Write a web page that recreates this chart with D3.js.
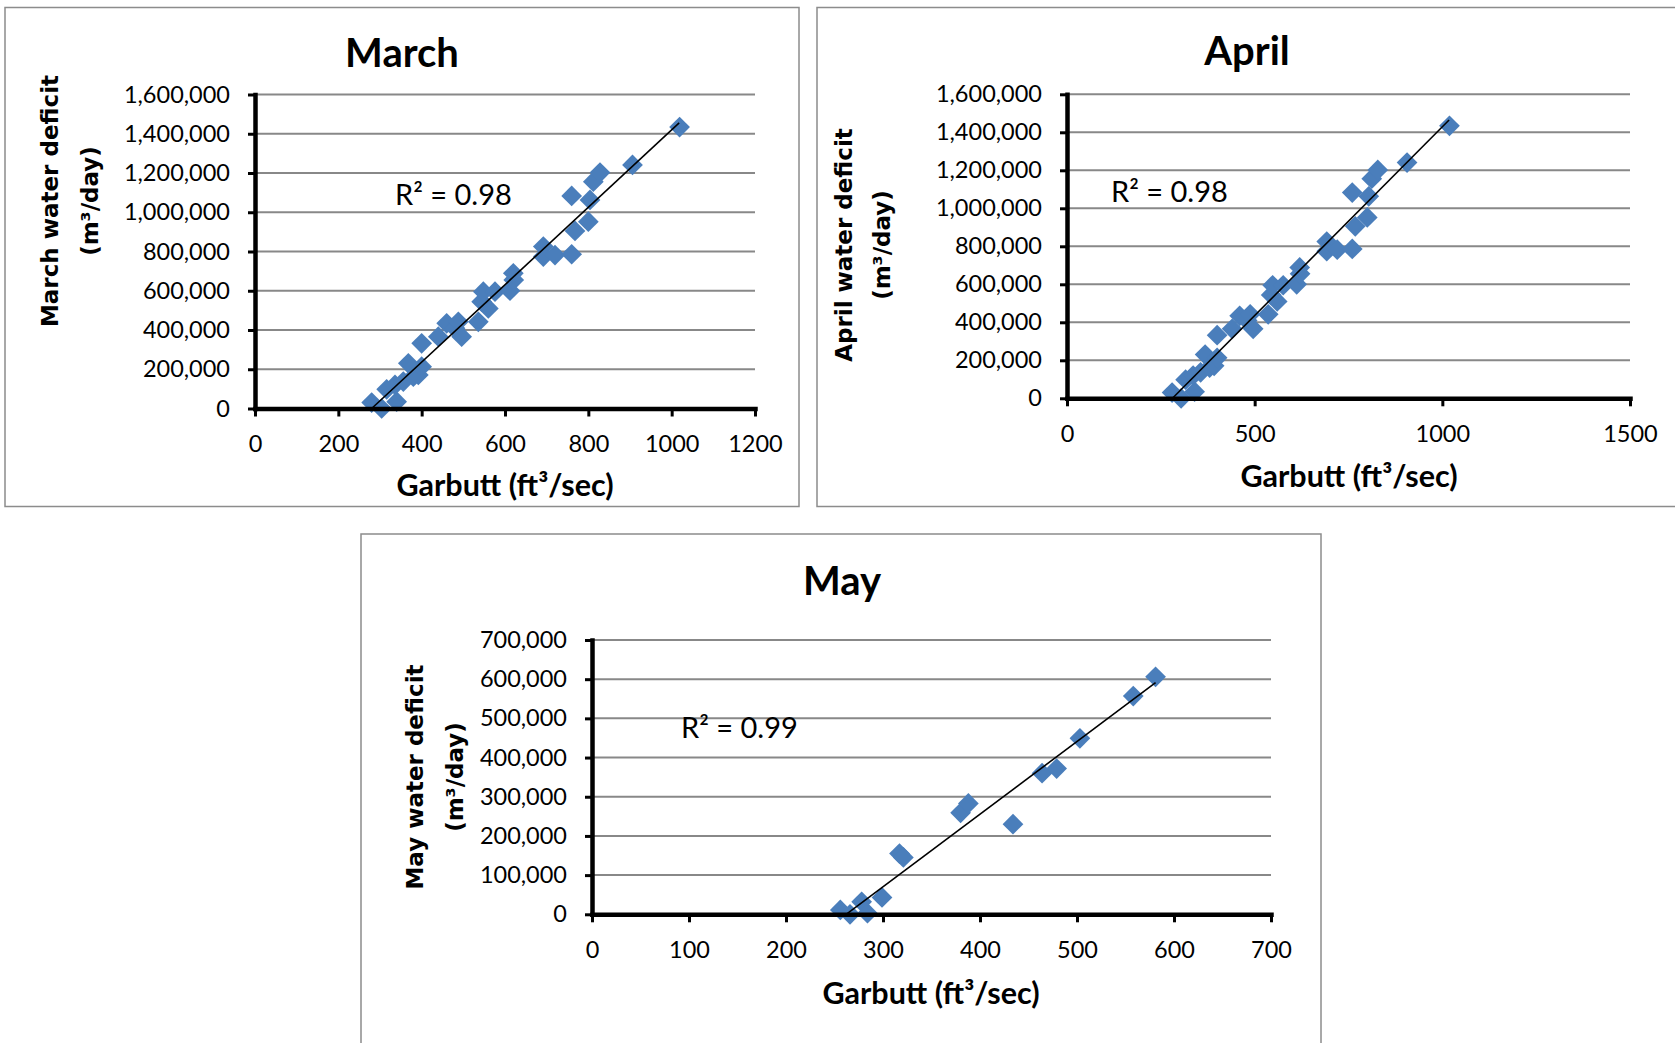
<!DOCTYPE html>
<html>
<head>
<meta charset="utf-8">
<script src="https://cdn.jsdelivr.net/npm/d3@7"></script>
<style>
  body { margin: 0; background: #fff; }
  svg { display: block; }
  text { font-family: Lato, "Open Sans", sans-serif; fill: #000; }
</style>
</head>
<body>
<svg width="1675" height="1043"></svg>
<script>
// ---- data ----
// March: Garbutt flow (ft3/sec) vs water deficit (m3/day)
var marchFlow = [280, 304, 316, 340, 336, 356, 368, 380, 392, 400, 400, 440, 460, 480, 488, 496,
  536, 544, 548, 560, 576, 612, 621, 620, 692, 692, 720, 760, 768, 800, 760, 804, 812, 828, 906, 1019];
var marchDeficit = [30000, 0, 98000, 35000, 120000, 137000, 230000, 162000, 171000, 213000, 332000,
  366000, 434000, 409000, 442000, 366000, 442000, 544000, 595000, 510000, 595000, 600000, 655000,
  689000, 825000, 774000, 782000, 786000, 905000, 952000, 1083000, 1063000, 1156000, 1202000,
  1241000, 1434000];
var marchTrendX = [280, 1018];
var marchTrendY = [0, 1455000];
var marchXTicks = [0, 200, 400, 600, 800, 1000, 1200];
var marchYTicks = [0, 200000, 400000, 600000, 800000, 1000000, 1200000, 1400000, 1600000];

// April
var aprilFlow = [280, 304, 316, 340, 336, 356, 368, 380, 392, 400, 400, 440, 460, 480, 488, 496,
  536, 544, 548, 560, 576, 612, 621, 620, 692, 692, 720, 760, 768, 800, 760, 804, 812, 828, 906, 1019];
var aprilDeficit = [30000, 0, 98000, 35000, 120000, 137000, 230000, 162000, 171000, 213000, 332000,
  366000, 434000, 409000, 442000, 366000, 442000, 544000, 595000, 510000, 595000, 600000, 655000,
  689000, 825000, 774000, 782000, 786000, 905000, 952000, 1083000, 1063000, 1156000, 1202000,
  1241000, 1434000];
var aprilTrendX = [281, 1018];
var aprilTrendY = [0, 1465000];
var aprilXTicks = [0, 500, 1000, 1500];
var aprilYTicks = [0, 200000, 400000, 600000, 800000, 1000000, 1200000, 1400000, 1600000];

// May
var mayFlow = [256, 266, 278, 284, 299, 317, 321, 380, 388, 434, 464, 479, 503, 558, 581];
var mayDeficit = [11000, 0, 32000, 3000, 43000, 155000, 145000, 259000, 283000, 230000, 360000,
  372000, 449000, 557000, 606000];
var mayTrendX = [262, 581];
var mayTrendY = [0, 591000];
var mayXTicks = [0, 100, 200, 300, 400, 500, 600, 700];
var mayYTicks = [0, 100000, 200000, 300000, 400000, 500000, 600000, 700000];

var svg = d3.select("svg");
var blue = "#4a7ebb";

function drawPanel(p) {
  var g = svg.append("g");

  // chart frame
  g.append("rect")
    .attr("x", p.box[0]).attr("y", p.box[1])
    .attr("width", p.box[2]).attr("height", p.box[3])
    .attr("fill", "#fff")
    .attr("stroke", "#8c8c8c")
    .attr("stroke-width", 1.5);

  var x = d3.scaleLinear().domain(d3.extent(p.xTicks)).range(p.xRange);
  var y = d3.scaleLinear().domain(d3.extent(p.yTicks)).range(p.yRange);

  // horizontal gridlines
  g.selectAll(".grid")
    .data(p.yTicks.slice(1))
    .enter()
    .append("line")
    .attr("class", "grid")
    .attr("x1", p.xRange[0]).attr("x2", p.xRange[1])
    .attr("y1", (d) => y(d)).attr("y2", (d) => y(d))
    .attr("stroke", "#888")
    .attr("stroke-width", 2);

  // diamond markers
  var diamond = d3.symbol(d3.symbolSquare, 215);
  g.selectAll(".dot")
    .data(p.flow)
    .enter()
    .append("path")
    .attr("class", "dot")
    .attr("d", diamond)
    .attr("transform", (d, i) => "translate(" + x(d) + "," + y(p.deficit[i]) + ") rotate(45)")
    .attr("fill", blue);

  // linear trendline
  g.append("line")
    .attr("x1", x(p.trendX[0])).attr("y1", y(p.trendY[0]))
    .attr("x2", x(p.trendX[1])).attr("y2", y(p.trendY[1]))
    .attr("stroke", "#000")
    .attr("stroke-width", 1.6);

  // axes
  var yAxis = g.append("g")
    .attr("transform", "translate(" + p.xRange[0] + ",0)")
    .call(d3.axisLeft(y).tickValues(p.yTicks).tickFormat(d3.format(","))
      .tickSizeInner(7).tickSizeOuter(0).tickPadding(18));
  var xAxis = g.append("g")
    .attr("transform", "translate(0," + p.yRange[0] + ")")
    .call(d3.axisBottom(x).tickValues(p.xTicks).tickFormat(d3.format("d"))
      .tickSizeInner(8).tickSizeOuter(0).tickPadding(19));

  [xAxis, yAxis].forEach(function (a) {
    a.select(".domain").attr("stroke", "#000").attr("stroke-width", 4.5).attr("stroke-linecap", "square");
    a.selectAll(".tick line").attr("stroke", "#000").attr("stroke-width", 3);
    a.selectAll(".tick text")
      .style("font-family", "Lato, sans-serif")
      .style("font-size", "23.5px")
      .attr("fill", "#000");
  });

  // chart title
  g.append("text")
    .attr("x", p.titlePos[0]).attr("y", p.titlePos[1])
    .attr("dy", "0.35em")
    .attr("text-anchor", "middle")
    .style("font-size", "40px")
    .style("font-weight", "bold")
    .text(p.title);

  // x axis title
  g.append("text")
    .attr("x", p.xTitlePos[0]).attr("y", p.xTitlePos[1])
    .attr("dy", "0.35em")
    .attr("text-anchor", "middle")
    .style("font-size", "30.5px")
    .style("font-weight", "bold")
    .text("Garbutt (ft³/sec)");

  // y axis title, two rotated lines
  p.yTitle.forEach(function (line, i) {
    g.append("text")
      .attr("transform", "translate(" + p.yTitleX[i] + "," + p.yTitleY + ") rotate(-90)")
      .attr("dy", "0.35em")
      .attr("text-anchor", "middle")
      .style("font-family", "'DejaVu Sans', sans-serif")
      .style("font-size", "23px")
      .style("font-weight", "bold")
      .text(line);
  });

  // R squared label
  g.append("text")
    .attr("x", p.r2Pos[0]).attr("y", p.r2Pos[1])
    .attr("dy", "0.35em")
    .style("font-size", "29px")
    .text(p.r2);
}

drawPanel({
  flow: marchFlow, deficit: marchDeficit, trendX: marchTrendX, trendY: marchTrendY,
  xTicks: marchXTicks, yTicks: marchYTicks,
  title: "March", r2: "R² = 0.98",
  yTitle: ["March water deficit", "(m³/day)"],
  box: [5, 7.5, 794, 499],
  xRange: [255, 755], yRange: [408.5, 94.5],
  titlePos: [402, 53], xTitlePos: [505, 485],
  yTitleX: [50, 90], yTitleY: 201,
  r2Pos: [395, 195]
});

drawPanel({
  flow: aprilFlow, deficit: aprilDeficit, trendX: aprilTrendX, trendY: aprilTrendY,
  xTicks: aprilXTicks, yTicks: aprilYTicks,
  title: "April", r2: "R² = 0.98",
  yTitle: ["April water deficit", "(m³/day)"],
  box: [817, 7.5, 870, 499],
  xRange: [1067, 1630], yRange: [398.3, 94.3],
  titlePos: [1247, 51], xTitlePos: [1349, 476],
  yTitleX: [844, 882], yTitleY: 245,
  r2Pos: [1111, 192]
});

drawPanel({
  flow: mayFlow, deficit: mayDeficit, trendX: mayTrendX, trendY: mayTrendY,
  xTicks: mayXTicks, yTicks: mayYTicks,
  title: "May", r2: "R² = 0.99",
  yTitle: ["May water deficit", "(m³/day)"],
  box: [361, 534, 960, 520],
  xRange: [592, 1271], yRange: [914.3, 640],
  titlePos: [842, 581], xTitlePos: [931, 993],
  yTitleX: [415, 455], yTitleY: 777,
  r2Pos: [681, 728]
});
</script>
</body>
</html>
